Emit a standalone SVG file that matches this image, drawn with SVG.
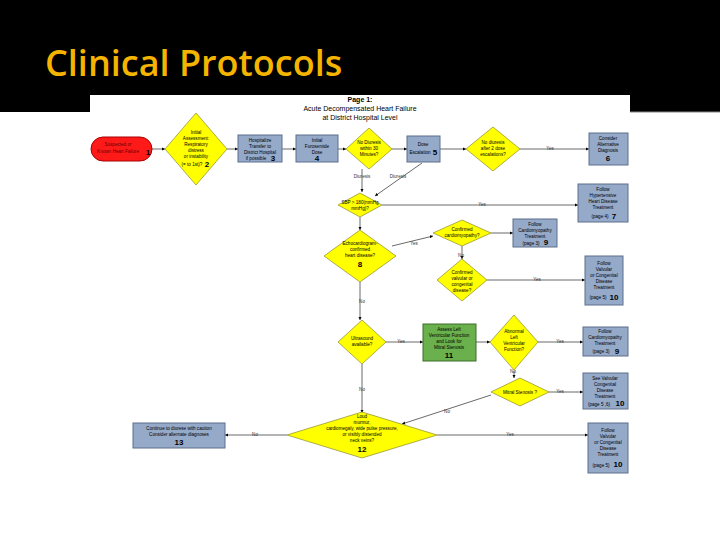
<svg xmlns="http://www.w3.org/2000/svg" width="720" height="540" viewBox="0 0 720 540">
<defs>
<marker id="ah" viewBox="0 0 6 6" refX="6" refY="3" markerWidth="4" markerHeight="4" orient="auto"><path d="M0,0 L6,3 L0,6 z" fill="#000"/></marker>
<style>
text{font-family:"Liberation Sans",Arial,sans-serif;fill:#000;text-anchor:middle}
.t{font-size:4.6px}
.n{font-size:8px;font-weight:bold}
.l{font-size:4.6px;fill:#333}
.d{fill:#ffff00;stroke:#999933;stroke-width:0.8}
.b{fill:#95a9c9;stroke:#5c6f8c;stroke-width:1}
.g{fill:#6ab04c;stroke:#3c6f2a;stroke-width:1}
.c line,.c path{stroke:#444;stroke-width:0.8;fill:none;marker-end:url(#ah)}
</style>
</defs>
<rect width="720" height="540" fill="#fff"/>
<rect width="720" height="112" fill="#000"/>
<line x1="630" y1="112" x2="720" y2="112" stroke="#888" stroke-width="1"/>
<text x="45" y="76" style="font-family:'Open Sans','Liberation Sans',sans-serif;font-size:36px;font-weight:600;fill:#f5b400;text-anchor:start">Clinical Protocols</text>
<rect x="90" y="95" width="540" height="383" fill="#fff"/>
<text x="360" y="102" style="font-size:7px;font-weight:bold">Page 1:</text>
<text x="360" y="111" style="font-size:7px">Acute Decompensated Heart Failure</text>
<text x="360" y="120" style="font-size:7px">at District Hospital Level</text>

<g class="c">
<line x1="152" y1="149" x2="165" y2="149"/>
<line x1="227" y1="149" x2="238" y2="149"/>
<line x1="282" y1="149" x2="296" y2="149"/>
<line x1="338" y1="149" x2="346" y2="149"/>
<line x1="392" y1="149" x2="407" y2="149"/>
<line x1="440" y1="149" x2="466" y2="149"/>
<line x1="520" y1="149" x2="589" y2="149"/>
<line x1="362" y1="169" x2="362" y2="192"/>
<line x1="422" y1="163" x2="375" y2="196"/>
<line x1="382" y1="205" x2="578" y2="205"/>
<line x1="360" y1="217" x2="360" y2="230"/>
<line x1="392" y1="246" x2="433" y2="236"/>
<line x1="491" y1="233" x2="513" y2="233"/>
<line x1="462" y1="246" x2="462" y2="259"/>
<line x1="487" y1="280" x2="585" y2="280"/>
<line x1="360" y1="282" x2="360" y2="320"/>
<line x1="386" y1="342" x2="423" y2="342"/>
<line x1="476" y1="342" x2="490" y2="342"/>
<line x1="538" y1="342" x2="583" y2="342"/>
<line x1="514" y1="371" x2="514" y2="378"/>
<line x1="549" y1="392" x2="583" y2="392"/>
<line x1="362" y1="364" x2="362" y2="413"/>
<line x1="491" y1="395" x2="402" y2="424"/>
<line x1="287" y1="435" x2="225" y2="435"/>
<line x1="437" y1="435" x2="588" y2="435"/>
</g>
<g>
<text class="l" x="550" y="150">Yes</text>
<text class="l" x="362" y="178">Diuresis</text>
<text class="l" x="398" y="178">Diuresis</text>
<text class="l" x="482" y="206">Yes</text>
<text class="l" x="414" y="245">Yes</text>
<text class="l" x="461" y="257">No</text>
<text class="l" x="537" y="281">Yes</text>
<text class="l" x="362" y="303">No</text>
<text class="l" x="401" y="343">Yes</text>
<text class="l" x="560" y="343">Yes</text>
<text class="l" x="513" y="373">No</text>
<text class="l" x="560" y="393">Yes</text>
<text class="l" x="362" y="391">No</text>
<text class="l" x="447" y="413">No</text>
<text class="l" x="255" y="436">No</text>
<text class="l" x="510" y="436">Yes</text>
</g>

<g id="n1"><rect x="91" y="137" width="61" height="24" rx="12" fill="#ff1a1a" stroke="#aa0000"/>
<text class="t" x="118" y="146" style="fill:#600">Suspected or</text><text class="t" x="118" y="153" style="fill:#600">Known Heart Failure</text><text class="n" x="148" y="155">1</text></g>
<g id="n2"><polygon class="d" points="196,113 227,149 196,185 165,149"/>
<text class="t" x="196" y="134">Initial</text><text class="t" x="196" y="140">Assessment:</text><text class="t" x="196" y="146">Respiratory</text><text class="t" x="196" y="152">distress</text><text class="t" x="196" y="158">or instability</text><text class="t" x="192" y="166">(= to 1st)?</text><text class="n" x="207" y="167">2</text></g>
<g id="n3"><rect class="b" x="238" y="135" width="44" height="27"/>
<text class="t" x="260" y="142">Hospitalize</text><text class="t" x="260" y="148">Transfer to</text><text class="t" x="260" y="154">District Hospital</text><text class="t" x="256" y="160">if possible</text><text class="n" x="273" y="161">3</text></g>
<g id="n4"><rect class="b" x="296" y="135" width="42" height="27"/>
<text class="t" x="317" y="142">Initial</text><text class="t" x="317" y="148">Furosemide</text><text class="t" x="317" y="154">Dose</text><text class="n" x="317" y="161">4</text></g>
<g id="n4b"><polygon class="d" points="369,128 392,149 369,169 346,149"/>
<text class="t" x="369" y="144">No Diuresis</text><text class="t" x="369" y="150">within 30</text><text class="t" x="369" y="156">Minutes?</text></g>
<g id="n5"><rect class="b" x="407" y="136" width="33" height="26"/>
<text class="t" x="423" y="146">Dose</text><text class="t" x="420" y="154">Escalation</text><text class="n" x="435" y="155">5</text></g>
<g id="n5b"><polygon class="d" points="493,127 520,149 493,171 466,149"/>
<text class="t" x="493" y="144">No diuresis</text><text class="t" x="493" y="150">after 2 dose</text><text class="t" x="493" y="156">escalations?</text></g>
<g id="n6"><rect class="b" x="589" y="133" width="39" height="32"/>
<text class="t" x="608" y="140">Consider</text><text class="t" x="608" y="146">Alternative</text><text class="t" x="608" y="152">Diagnosis</text><text class="n" x="608" y="161">6</text></g>
<g id="nsbp"><polygon class="d" points="360,193 382,205 360,217 338,205"/>
<text class="t" x="360" y="204">SBP &gt; 180(mmHg</text><text class="t" x="360" y="210">mmHg)?</text></g>
<g id="n7"><rect class="b" x="578" y="184" width="50" height="38"/>
<text class="t" x="603" y="191">Follow</text><text class="t" x="603" y="197">Hypertensive</text><text class="t" x="603" y="203">Heart Disease</text><text class="t" x="603" y="209">Treatment</text><text class="t" x="600" y="218">(page 4)</text><text class="n" x="614" y="219">7</text></g>
<g id="ncm"><polygon class="d" points="462,220 491,233 462,246 433,233"/>
<text class="t" x="462" y="231">Confirmed</text><text class="t" x="462" y="237">cardiomyopathy?</text></g>
<g id="n9a"><rect class="b" x="513" y="219" width="44" height="28"/>
<text class="t" x="535" y="226">Follow</text><text class="t" x="535" y="232">Cardiomyopathy</text><text class="t" x="535" y="238">Treatment</text><text class="t" x="531" y="245">(page 3)</text><text class="n" x="546" y="245">9</text></g>
<g id="n8"><polygon class="d" points="360,230 396,256 360,282 324,256"/>
<text class="t" x="360" y="245">Echocardiogram-</text><text class="t" x="360" y="251">confirmed</text><text class="t" x="360" y="257">heart disease?</text><text class="n" x="360" y="267">8</text></g>
<g id="nvc"><polygon class="d" points="462,259 487,280 462,301 437,280"/>
<text class="t" x="462" y="274">Confirmed</text><text class="t" x="462" y="280">valvular or</text><text class="t" x="462" y="286">congenital</text><text class="t" x="462" y="292">disease?</text></g>
<g id="n10a"><rect class="b" x="585" y="256" width="38" height="49"/>
<text class="t" x="604" y="265">Follow</text><text class="t" x="604" y="271">Valvular</text><text class="t" x="604" y="277">or Congenital</text><text class="t" x="604" y="283">Disease</text><text class="t" x="604" y="289">Treatment</text><text class="t" x="598" y="299">(page 5)</text><text class="n" x="614" y="300">10</text></g>
<g id="nus"><polygon class="d" points="362,320 386,342 362,364 338,342"/>
<text class="t" x="362" y="340">Ultrasound</text><text class="t" x="362" y="346">available?</text></g>
<g id="n11"><rect class="g" x="423" y="324" width="53" height="37"/>
<text class="t" x="449" y="331">Assess Left</text><text class="t" x="449" y="337">Ventricular Function</text><text class="t" x="449" y="343">and Look for</text><text class="t" x="449" y="349">Mitral Stenosis</text><text class="n" x="449" y="358">11</text></g>
<g id="nlv"><polygon class="d" points="514,315 538,342 514,370 490,342"/>
<text class="t" x="514" y="333">Abnormal</text><text class="t" x="514" y="339">Left</text><text class="t" x="514" y="345">Ventricular</text><text class="t" x="514" y="351">Function?</text></g>
<g id="n9b"><rect class="b" x="583" y="327" width="45" height="29"/>
<text class="t" x="605" y="333">Follow</text><text class="t" x="605" y="339">Cardiomyopathy</text><text class="t" x="605" y="345">Treatment</text><text class="t" x="601" y="353">(page 3)</text><text class="n" x="617" y="354">9</text></g>
<g id="nms"><polygon class="d" points="520,378 549,392 520,406 491,392"/>
<text class="t" x="520" y="394">Mitral Stenosis ?</text></g>
<g id="n10b"><rect class="b" x="583" y="373" width="45" height="36"/>
<text class="t" x="605" y="380">See Valvular</text><text class="t" x="605" y="386">Congenital</text><text class="t" x="605" y="392">Disease</text><text class="t" x="605" y="398">Treatment</text><text class="t" x="599" y="406">(page 5 ,6)</text><text class="n" x="620" y="406">10</text></g>
<g id="n12"><polygon class="d" points="362,412 437,435 362,458 287,435"/>
<text class="t" x="362" y="418">Loud</text><text class="t" x="362" y="424">murmur,</text><text class="t" x="362" y="430">cardiomegaly, wide pulse pressure,</text><text class="t" x="362" y="436">or visibly distended</text><text class="t" x="362" y="442">neck veins?</text><text class="n" x="362" y="452">12</text></g>
<g id="n13"><rect class="b" x="133" y="423" width="92" height="25"/>
<text class="t" x="179" y="430">Continue to diurese with caution</text><text class="t" x="179" y="436">Consider alternate diagnoses</text><text class="n" x="179" y="445">13</text></g>
<g id="n10c"><rect class="b" x="588" y="423" width="40" height="50"/>
<text class="t" x="608" y="432">Follow</text><text class="t" x="608" y="438">Valvular</text><text class="t" x="608" y="444">or Congenital</text><text class="t" x="608" y="450">Disease</text><text class="t" x="608" y="456">Treatment</text><text class="t" x="601" y="467">(page 5)</text><text class="n" x="618" y="467">10</text></g>
</svg>
